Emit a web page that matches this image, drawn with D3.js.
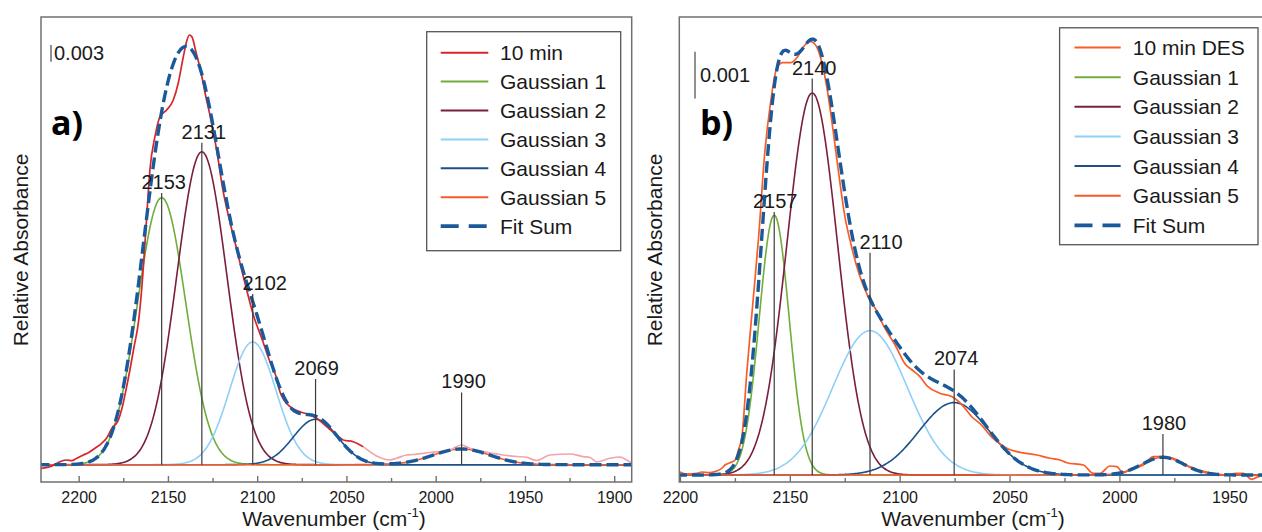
<!DOCTYPE html>
<html><head><meta charset="utf-8">
<script src="https://cdn.jsdelivr.net/npm/d3@7"></script>
<style>body{margin:0;background:#fff}svg{display:block}</style>
</head><body><svg id="c" width="1262" height="532"></svg>
<script>
// ---------------- DATA (wavenumber in cm-1, absorbance in units of 0.001) ----------------
// Panel a: measured "10 min" spectrum (dark red part, then faded part)
const redWnA = [2221.1,2216.1,2210.5,2206.7,2203.9,2201.1,2197.4,2194.6,2190.9,2187.1,2184.3,2181.3,2178.0,2175.7,2173.5,2171.3,2169.0,2166.5,2164.5,2161.9,2160.1,2157.3,2154.5,2150.7,2147.0,2144.2,2141.4,2139.6,2138.0,2136.5,2134.3,2131.5,2129.3,2125.9,2122.5,2119.4,2115.8,2111.9,2106.3,2101.8,2097.3,2092.8,2089.5,2087.2,2081.6,2076.0,2070.4,2066.7,2061.1,2055.5,2051.8,2046.2,2040.6];
const redAbsA = [-0.65,-0.36,0.54,0.84,0.72,1.15,1.74,2.16,2.95,3.84,4.80,6.59,7.85,10.19,13.42,17.01,21.14,25.63,32.28,44.49,52.94,58.87,62.46,63.72,65.51,68.57,73.24,75.93,77.19,76.83,74.13,70.54,66.95,61.92,56.17,49.70,44.31,39.28,31.92,26.53,22.58,18.45,15.93,13.06,10.42,9.52,8.93,8.33,6.83,5.34,4.44,4.13,3.23];
const fadeWnA = [2040.6,2033.1,2025.6,2021.9,2016.3,2012.6,2003.2,1992.0,1985.5,1980.8,1973.4,1962.2,1954.7,1949.1,1943.5,1936.0,1924.8,1917.4,1913.6,1909.9,1902.4,1896.8,1893.0,1890.2];
const fadeAbsA = [3.23,1.56,0.84,1.15,1.74,1.83,2.19,2.64,3.54,2.95,2.34,1.74,1.47,1.33,0.75,1.74,1.92,1.44,1.29,0.49,1.15,1.38,0.84,0.25];
// Panel a: Gaussian components (centre, height, sigma)
const centersA = [2153.5,2131.0,2102.5,2067.3,1985.5];
const heightsA = [47.96,56.2,22.04,8.16,2.82];
const sigmasA  = [13.5,14,13,12.5,16];
const labelsA  = ["2153","2131","2102","2069","1990"];
const labelTopA = [48.8,57.84,30.66,15.39,12.97];
const legendA = ["10 min","Gaussian 1","Gaussian 2","Gaussian 3","Gaussian 4","Gaussian 5","Fit Sum"];
const ticksMajorA = [2200,2150,2100,2050,2000,1950,1900];
const ticksMinorA = [2175,2125,2075,2025,1975,1925];

// Panel b: measured "10 min DES" spectrum
const desWnB = [2200.3,2196.95,2192.4,2190.1,2186.3,2184.1,2181.0,2179.5,2177.2,2174.9,2173.4,2171.8,2169.6,2166.9,2164.2,2161.4,2158.7,2155.9,2153.2,2149.5,2146.7,2144.0,2140.9,2138.6,2135.8,2133.1,2130.4,2127.6,2124.9,2122.2,2118.4,2114.7,2111.1,2107.4,2101.9,2097.4,2094.6,2090.9,2087.3,2081.8,2076.3,2070.8,2067.1,2063.4,2058.0,2054.3,2051.3,2046.7,2037.6,2031.6,2027.0,2024.0,2016.4,2011.9,2008.8,2004.3,2001.2,1998.2,1994.4,1989.1,1984.6,1980.0,1975.5,1967.9,1958.8,1952.7,1946.6,1943.6,1939.8,1936.8,1934.2];
const desAbsB = [0.071,0.021,0.036,0.064,0.049,0.071,0.143,0.214,0.263,0.321,0.535,0.814,2.184,3.640,5.096,6.906,7.994,8.719,8.829,8.829,8.938,9.154,9.285,9.229,8.901,8.287,7.413,6.403,5.525,4.946,4.291,3.854,3.565,3.203,2.767,2.368,2.259,2.113,1.897,1.752,1.679,1.460,1.242,1.098,0.807,0.664,0.572,0.499,0.428,0.358,0.321,0.263,0.214,0.036,0.036,0.193,0.178,0.049,0.143,0.214,0.392,0.392,0.358,0.178,0.049,0.000,0.036,0.036,-0.092,-0.036,0.0];
const centersB = [2157.1,2139.8,2113.5,2075.2,1980.2];
const heightsB = [5.56,8.18,3.09,1.55,0.379];
const sigmasB  = [6.8,11.5,17,16,9.5];
const labelsB  = ["2157","2140","2110","2074","1980"];
const labelTopB = [5.63,8.49,4.76,2.26,0.878];
const legendB = ["10 min DES","Gaussian 1","Gaussian 2","Gaussian 3","Gaussian 4","Gaussian 5","Fit Sum"];
const ticksMajorB = [2200,2150,2100,2050,2000,1950];
const ticksMinorB = [2175,2125,2075,2025,1975];

// ---------------- STYLE ----------------
const FONT = '"Liberation Sans", Arial, Helvetica, sans-serif';
const TXT = "#1a1a1a", FRAME = "#707070", LBL = "#3a3a3a";
const gColors = ["#6fae3a","#7a1f3d","#8fd0f8","#1d4f8a","#f7592a"];
const FIT = "#1b5a9a";

const svg = d3.select("#c");

function panel(cfg) {
  const L = cfg.layout;
  const g = svg.append("g");
  const x = d3.scaleLinear().domain(cfg.xDomain).range([L.left, L.right]);
  const y = d3.scaleLinear().domain(cfg.yDomain).range([L.bottom, L.top]);
  const clipId = "clip" + cfg.id;
  svg.append("clipPath").attr("id", clipId).append("rect")
    .attr("x", L.left).attr("y", L.top).attr("width", L.right - L.left).attr("height", L.bottom - L.top);
  const plot = g.append("g").attr("clip-path", `url(#${clipId})`);
  const line = d3.line().x(d => x(d[0])).y(d => y(d[1])).curve(d3.curveMonotoneX);

  const grid = d3.range(cfg.xDomain[0] + 2, cfg.xDomain[1] - 2, -0.5);
  const comp = cfg.centers.map((c, i) => grid.map(w => [w, cfg.heights[i] * Math.exp(-((w - c) ** 2) / (2 * cfg.sigmas[i] ** 2))]));
  const fit = grid.map((w, k) => [w, d3.sum(comp, cc => cc[k][1])]);

  comp.forEach((cc, i) => plot.append("path").attr("d", line(cc)).attr("fill", "none")
    .attr("stroke", gColors[i]).attr("stroke-width", 1.6));

  cfg.measured.forEach(m => {
    plot.append("path").attr("d", line(m.wn.map((w, i) => [w, m.abs[i]])))
      .attr("fill", "none").attr("stroke", m.color).attr("stroke-width", 1.7);
  });

  plot.append("path").attr("d", line(fit)).attr("fill", "none").attr("stroke", FIT)
    .attr("stroke-width", 3.4).attr("stroke-dasharray", "12,5");

  // peak annotations
  cfg.labels.forEach((t, i) => {
    const cx = x(cfg.centers[i]);
    g.append("line").attr("x1", cx).attr("x2", cx).attr("y1", y(0)).attr("y2", y(cfg.labelTop[i]))
      .attr("stroke", LBL).attr("stroke-width", 1.2);
    g.append("text").attr("x", cx + cfg.labelDx[i]).attr("y", y(cfg.labelTop[i]) - 4)
      .attr("text-anchor", "middle").attr("font-family", FONT).attr("font-size", 20).attr("fill", TXT).text(t);
  });

  // frame
  g.append("rect").attr("x", L.left).attr("y", L.top).attr("width", L.right - L.left).attr("height", L.bottom - L.top)
    .attr("fill", "none").attr("stroke", FRAME).attr("stroke-width", 1.5);

  // axes
  const ax = g.append("g").attr("transform", `translate(0,${L.bottom})`)
    .call(d3.axisBottom(x).tickValues(cfg.major).tickSize(-6).tickPadding(10).tickFormat(d3.format("d")));
  ax.attr("font-family", FONT).attr("font-size", 16);
  ax.select(".domain").remove();
  ax.selectAll("line").attr("stroke", FRAME).attr("stroke-width", 1.4);
  ax.selectAll("text").attr("fill", TXT);
  const axm = g.append("g").attr("transform", `translate(0,${L.bottom})`)
    .call(d3.axisBottom(x).tickValues(cfg.minor).tickSize(-4).tickFormat(""));
  axm.select(".domain").remove();
  axm.selectAll("line").attr("stroke", FRAME).attr("stroke-width", 1.4);

  // axis titles
  const xt = g.append("text").attr("x", cfg.xTitleX).attr("y", 526).attr("text-anchor", "middle")
    .attr("font-family", FONT).attr("font-size", 21).attr("fill", TXT);
  xt.append("tspan").text("Wavenumber (cm");
  xt.append("tspan").attr("font-size", 13).attr("dy", -9).text("-1");
  xt.append("tspan").attr("dy", 9).text(")");
  g.append("text").attr("transform", `translate(${cfg.yTitleX},250) rotate(-90)`).attr("text-anchor", "middle")
    .attr("dy", "0.35em").attr("font-family", FONT).attr("font-size", 21).attr("fill", TXT).text("Relative Absorbance");

  // scale bar
  const sb = cfg.scaleBar;
  const len = y(0) - y(sb.value);
  g.append("line").attr("x1", sb.x).attr("x2", sb.x).attr("y1", sb.top).attr("y2", sb.top + len)
    .attr("stroke", "#555").attr("stroke-width", 1.3);
  g.append("text").attr("x", sb.tx).attr("y", sb.ty).attr("font-family", FONT).attr("font-size", 20)
    .attr("fill", TXT).text(sb.label);

  // panel letter
  g.append("text").attr("x", cfg.letter.x).attr("y", 135).attr("font-family", '"Open Sans", Lato, sans-serif')
    .attr("font-weight", "bold").attr("font-size", 34).attr("fill", "#000").text(cfg.letter.t);

  // legend
  const lg = cfg.legend;
  g.append("rect").attr("x", lg.x).attr("y", lg.y).attr("width", lg.w).attr("height", lg.h)
    .attr("fill", "#fff").attr("stroke", "#555").attr("stroke-width", 1.3);
  const lcol = [cfg.measured[0].color].concat(gColors).concat([FIT]);
  cfg.legendNames.forEach((n, i) => {
    const ry = lg.row0 + i * lg.step;
    const isFit = i === cfg.legendNames.length - 1;
    g.append("line").attr("x1", lg.s0).attr("x2", lg.s1).attr("y1", ry).attr("y2", ry)
      .attr("stroke", lcol[i]).attr("stroke-width", isFit ? 3.6 : 2)
      .attr("stroke-dasharray", isFit ? "18,10" : null);
    g.append("text").attr("x", lg.tx).attr("y", ry + 7.5).attr("font-family", FONT).attr("font-size", 21)
      .attr("fill", TXT).text(n);
  });
}

panel({
  id: "A",
  layout: {left: 41, right: 631.7, top: 17, bottom: 482},
  xDomain: [2221.1, 1890.2], yDomain: [-3.11, 80.42],
  centers: centersA, heights: heightsA, sigmas: sigmasA,
  labels: labelsA, labelTop: labelTopA, labelDx: [2, 2, 12, 1, 2],
  measured: [{wn: redWnA, abs: redAbsA, color: "#d7262b"}, {wn: fadeWnA, abs: fadeAbsA, color: "#f4a3ab"}],
  major: ticksMajorA, minor: ticksMinorA,
  xTitleX: 334, yTitleX: 21,
  scaleBar: {value: 3, x: 51, top: 45, tx: 54, ty: 60, label: "0.003"},
  letter: {x: 51, t: "a)"},
  legend: {x: 426.7, y: 31.7, w: 194, h: 219, row0: 52.7, step: 28.9, s0: 440.7, s1: 488.3, tx: 500},
  legendNames: legendA
});

panel({
  id: "B",
  layout: {left: 679.3, right: 1264, top: 17, bottom: 482},
  xDomain: [2200.3, 1934.2], yDomain: [-0.150, 9.807],
  centers: centersB, heights: heightsB, sigmas: sigmasB,
  labels: labelsB, labelTop: labelTopB, labelDx: [1, 2, 11, 2, 1],
  measured: [{wn: desWnB, abs: desAbsB, color: "#fa5c26"}],
  major: ticksMajorB, minor: ticksMinorB,
  xTitleX: 973, yTitleX: 655,
  scaleBar: {value: 1, x: 695, top: 51.7, tx: 700, ty: 82, label: "0.001"},
  letter: {x: 700, t: "b)"},
  legend: {x: 1059.6, y: 27.8, w: 198.4, h: 216.9, row0: 47.5, step: 29.65, s0: 1074.5, s1: 1120.7, tx: 1132.8},
  legendNames: legendB
});
</script></body></html>
